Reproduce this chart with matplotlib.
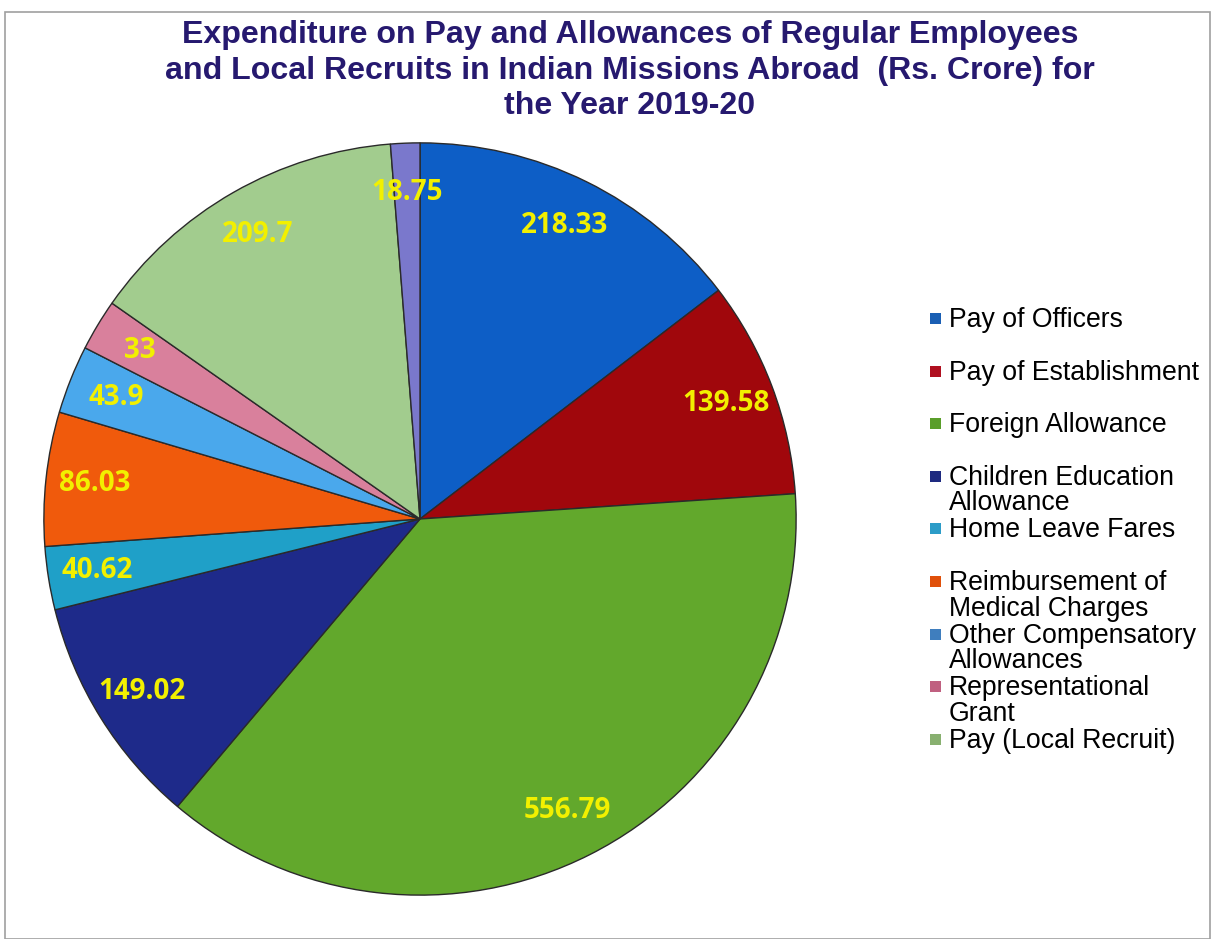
import matplotlib.pyplot as plt
from matplotlib.patches import Rectangle

# values in Rs. Crore, clockwise from 12 o'clock
values = [218.33, 139.58, 556.79, 149.02, 40.62, 86.03, 43.9, 33, 209.7, 18.75]
value_labels = ["218.33", "139.58", "556.79", "149.02", "40.62", "86.03", "43.9", "33", "209.7", "18.75"]
slice_colors = ["#0D5EC6", "#A0070C", "#62A82C", "#1E2A8A", "#1FA0C8",
                "#F05A0C", "#4AA8EC", "#D9809C", "#A2CC8E", "#7A78CC"]

legend_names = ["Pay of Officers", "Pay of Establishment", "Foreign Allowance",
                "Children Education\nAllowance", "Home Leave Fares",
                "Reimbursement of\nMedical Charges", "Other Compensatory\nAllowances",
                "Representational\nGrant", "Pay (Local Recruit)"]
legend_colors = ["#1A5FB4", "#B01020", "#5A9E2A", "#1E2A80", "#2C9CC8",
                 "#E0500A", "#3F7EBE", "#C06080", "#88B070"]

title = ("Expenditure on Pay and Allowances of Regular Employees\n"
         "and Local Recruits in Indian Missions Abroad  (Rs. Crore) for\n"
         "the Year 2019-20")

W, H = 1214, 939
fig = plt.figure(figsize=(W / 100, H / 100), dpi=100)

# chart frame
fig.patches.append(Rectangle((5 / W, 0), 1205 / W, 1 - 12 / H, transform=fig.transFigure,
                             fill=False, edgecolor="#A0A0A0", linewidth=1.2))

# pie axes: centre (420, 519) px, radius 378 px
cx, cy, r = 420, 519, 378
ax = fig.add_axes([(cx - r) / W, 1 - (cy + r) / H, 2 * r / W, 2 * r / H])
labels_iter = iter(value_labels)
wedges, _, autotexts = ax.pie(values, colors=slice_colors, startangle=90, counterclock=False,
                              autopct=lambda p: next(labels_iter), pctdistance=0.87,
                              wedgeprops=dict(edgecolor="#2A2A2A", linewidth=1.0),
                              textprops=dict(color="#F2F000", fontsize=20, fontweight="bold",
                                             family="Open Sans"))
ax.set_xlim(-1.005, 1.005)
ax.set_ylim(-1.005, 1.005)
ax.set_aspect("equal")
ax.axis("off")

fig.text(630 / W, 1 - 20 / H, title, ha="center", va="top", fontsize=23.1, fontweight="bold",
         color="#26196F", family="Liberation Sans", linespacing=1.25)

# legend drawn by hand so the wrapped lines overflow like the original
y0, step = 318, 52.6
for i, (name, col) in enumerate(zip(legend_names, legend_colors)):
    yc = y0 + i * step
    fig.patches.append(Rectangle((930 / W, 1 - (yc + 6) / H), 11 / W, 11 / H,
                                 transform=fig.transFigure, facecolor=col, edgecolor="none"))
    fig.text(949 / W, 1 - (yc - 11) / H, name, ha="left", va="top", fontsize=19.2,
             color="#000000", family="Liberation Sans", linespacing=0.98)

fig.savefig("out.png", dpi=100, facecolor="white")
